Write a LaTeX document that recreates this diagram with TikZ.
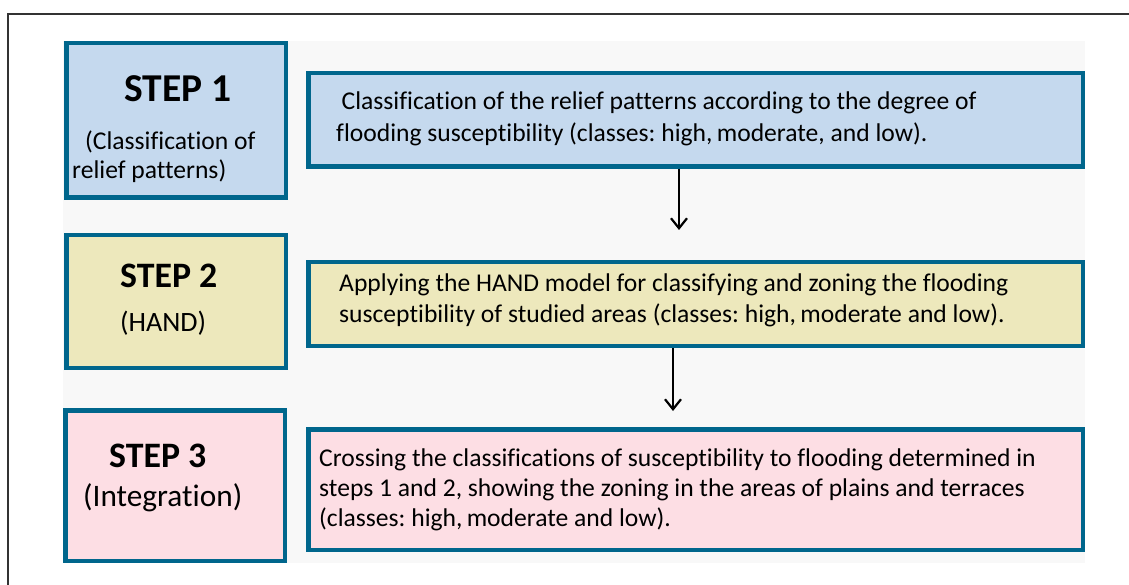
\documentclass[tikz,border=0pt]{standalone}
\usepackage{fontspec}
\setmainfont{Carlito}[Ligatures=CommonOff]
\usetikzlibrary{arrows.meta}
\definecolor{bordercol}{RGB}{0,102,140}
\definecolor{bluefill}{RGB}{197,217,238}
\definecolor{yellowfill}{RGB}{237,232,188}
\definecolor{pinkfill}{RGB}{253,222,228}
\definecolor{panelcol}{RGB}{248,248,248}
\definecolor{framecol}{RGB}{51,51,51}
\frenchspacing
\tikzset{
  box/.style={draw=bordercol, line width=4.5pt, inner sep=0pt, rectangle},
  line/.style={anchor=base west, inner sep=0pt, font=\fontsize{25.6}{30}\selectfont},
  steplabel/.style={anchor=base west, inner sep=0pt},
  flowarrow/.style={draw=black, line width=2.2pt, -{Straight Barb[length=10pt,width=16pt,line width=2.2pt]}}
}
\begin{document}
\begin{tikzpicture}[x=1pt,y=-1pt]
\useasboundingbox (0,0) rectangle (1129,585);
\fill[white] (0,0) rectangle (1129,585);
% outer frame (top and left edges)
\coordinate (fa) at (8,585);
\coordinate (fb) at (8,14);
\coordinate (fc) at (1129,14);
\draw[framecol, line width=2pt] (fa) -- (fb) -- (fc);
% light panel
\fill[panelcol] (63,41) rectangle (1085,563);

% step 1
\node[box, fill=bluefill, minimum width=219.5pt, minimum height=154.5pt] (b1l) at (176,120.5) {};
\node[box, fill=bluefill, minimum width=774.5pt, minimum height=93.5pt] (b1r) at (695.5,120) {};
% step 2
\node[box, fill=yellowfill, minimum width=219.5pt, minimum height=132.5pt] (b2l) at (176,301.5) {};
\node[box, fill=yellowfill, minimum width=774.5pt, minimum height=83.5pt] (b2r) at (695.5,304) {};
% step 3
\node[box, fill=pinkfill, minimum width=219.5pt, minimum height=150.5pt] (b3l) at (175,485.5) {};
\node[box, fill=pinkfill, minimum width=774.5pt, minimum height=120.5pt] (b3r) at (695.5,489.5) {};

% left labels
\node[steplabel, font=\fontsize{39.5}{42}\selectfont\bfseries] (s1) at (124,101.7) {STEP 1};
\node[steplabel, font=\fontsize{25.6}{28}\selectfont] (s1a) at (85,150) {(Classification of};
\node[steplabel, font=\fontsize{25.6}{28}\selectfont] (s1b) at (72,178.5) {relief patterns)};

\node[steplabel, font=\fontsize{35.8}{40}\selectfont\bfseries] (s2) at (120,287.3) {STEP 2};
\node[steplabel, font=\fontsize{28}{30}\selectfont] (s2a) at (120,331) {(HAND)};

\node[steplabel, font=\fontsize{35.8}{40}\selectfont\bfseries] (s3) at (109,467.3) {STEP 3};
\node[steplabel, font=\fontsize{31.3}{34}\selectfont] (s3a) at (83,506) {(Integration)};

% right texts
\node[line] (t1a) at (341.5,110) {Classification of the relief patterns according to the degree of};
\node[line] (t1b) at (336,141.7) {flooding susceptibility (classes: high,\,moderate, and low).};

\node[line] (t2a) at (339,291.7) {Applying the HAND model for classifying and zoning the flooding};
\node[line] (t2b) at (339,322) {susceptibility of studied areas (classes: high,\,moderate and low).};

\node[line] (t3a) at (319,466.7) {Crossing the classifications of susceptibility to flooding determined in};
\node[line] (t3b) at (319,496.7) {steps 1 and 2, showing the zoning in the areas of plains and terraces};
\node[line] (t3c) at (319,526.7) {(classes: high,\,moderate and low).};

% arrows
\coordinate (a1e) at (679,230);
\coordinate (a2e) at (673,411);
\draw[flowarrow] (b1r.south -| a1e) -- (a1e);
\draw[flowarrow] (b2r.south -| a2e) -- (a2e);
\end{tikzpicture}
\end{document}
